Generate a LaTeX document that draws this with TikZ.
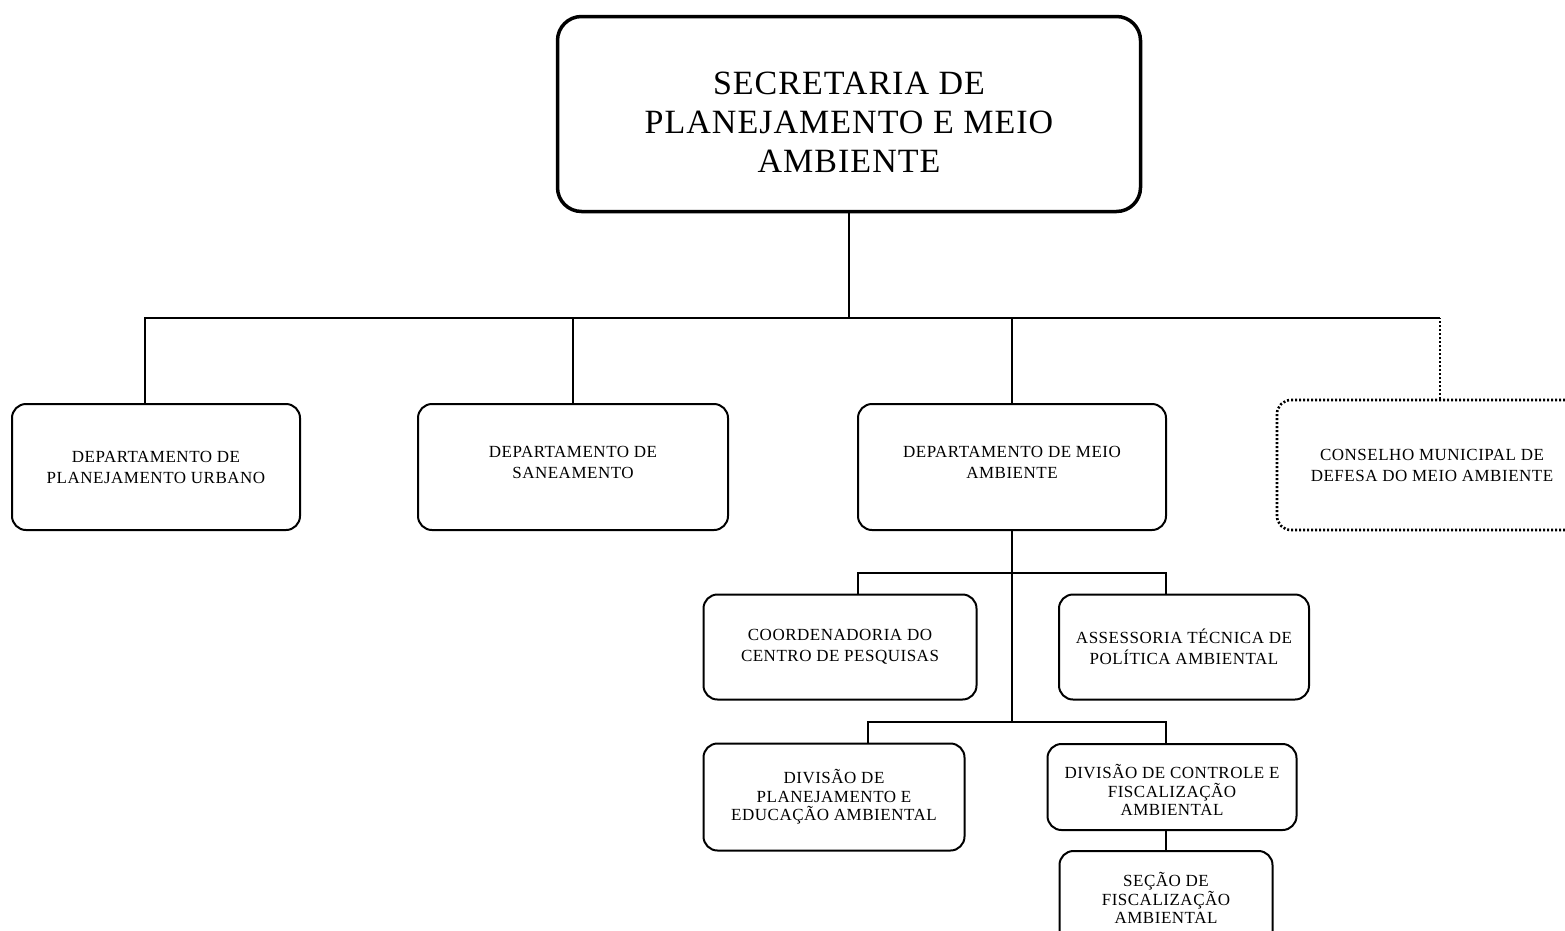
\documentclass[tikz,border=0pt]{standalone}
\usepackage{fontspec}
\setmainfont{Liberation Serif}
\newfontfamily\orgfont[LetterSpace=3]{Liberation Serif}
\tikzset{
  orgnode/.style={
    draw=black,
    line width=2pt,
    rounded corners=14pt,
    align=center,
    inner sep=4pt,
    font=\orgfont\fontsize{17}{21}\selectfont
  },
  tightnode/.style={orgnode,font=\orgfont\fontsize{17}{18.5}\selectfont},
  headnode/.style={
    orgnode,
    line width=3.5pt,
    rounded corners=24pt,
    font=\orgfont\fontsize{34}{39}\selectfont
  },
  councilnode/.style={orgnode,dotted,line width=2.6pt},
  orgline/.style={draw=black,line width=2pt},
  councilline/.style={orgline,dotted,line width=2.6pt}
}
\begin{document}
\begin{tikzpicture}[x=1pt,y=-1pt]
    \clip (0,0) rectangle (1565,930);
    \fill[white] (0,0) rectangle (1565,930);

    \node[headnode,minimum width=583,minimum height=195,text height=117pt] (sec) at (849,114) {
      SECRETARIA DE\\PLANEJAMENTO E MEIO\\AMBIENTE};

    \node[orgnode,minimum width=288,minimum height=126] (dpu) at (156,467) {
      DEPARTAMENTO DE\\PLANEJAMENTO URBANO};
    \node[orgnode,minimum width=310,minimum height=126,text depth=10pt] (dsa) at (573,467) {
      DEPARTAMENTO DE\\SANEAMENTO};
    \node[orgnode,minimum width=308,minimum height=126,text depth=10pt] (dma) at (1012,467) {
      DEPARTAMENTO DE MEIO\\AMBIENTE};
    \node[councilnode,minimum width=310,minimum height=130] (cmd) at (1432,465) {
      CONSELHO MUNICIPAL DE\\DEFESA DO MEIO AMBIENTE};

    \coordinate (busmid) at (849,318);
    \draw[orgline] (sec.south) -- (busmid);
    \draw[orgline] ([xshift=-11pt]dpu.north) |- ([xshift=8pt]busmid -| cmd.north);
    \draw[orgline] (dsa.north) -- (busmid -| dsa.north);
    \draw[orgline] (dma.north) -- (busmid -| dma.north);
    \draw[councilline] ([xshift=8pt]cmd.north) -- ([xshift=8pt]busmid -| cmd.north);

    \node[orgnode,minimum width=273,minimum height=105] (ccp) at (840,647) {
      COORDENADORIA DO\\CENTRO DE PESQUISAS};
    \node[orgnode,minimum width=250,minimum height=105] (atp) at (1184,647) {
      ASSESSORIA TÉCNICA DE\\POLÍTICA AMBIENTAL};
    \node[tightnode,minimum width=261,minimum height=107] (dpe) at (834,797) {
      DIVISÃO DE\\PLANEJAMENTO E\\EDUCAÇÃO AMBIENTAL};
    \node[tightnode,minimum width=249,minimum height=86,text height=58pt] (dcf) at (1172,787) {
      DIVISÃO DE CONTROLE E\\FISCALIZAÇÃO\\AMBIENTAL};
    \node[tightnode,minimum width=213,minimum height=94] (sfa) at (1166,898) {
      SEÇÃO DE\\FISCALIZAÇÃO\\AMBIENTAL};

    \coordinate (hubA) at (1012,573);
    \coordinate (hubB) at (1012,722);
    \draw[orgline] (dma.south) -- (hubB);
    \draw[orgline] ([xshift=18pt]ccp.north) |- (hubA) -| ([xshift=-18pt]atp.north);
    \draw[orgline] ([xshift=34pt]dpe.north) |- (hubB) -| ([xshift=-6pt]dcf.north);
    \draw[orgline] ([xshift=-6pt]dcf.south) -- (sfa.north);
\end{tikzpicture}
\end{document}
